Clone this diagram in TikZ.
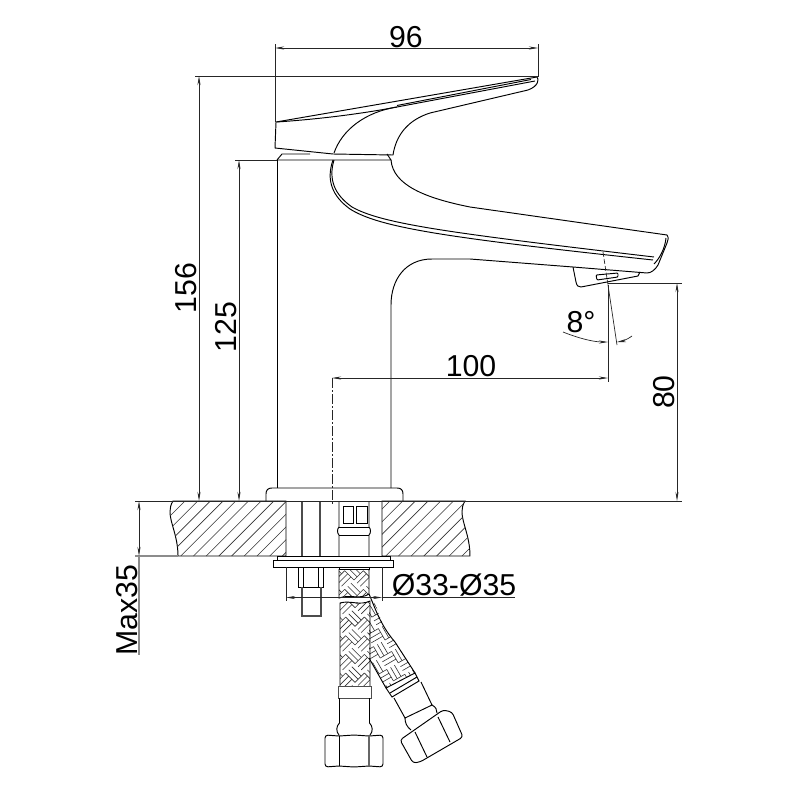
\documentclass[tikz,border=0pt]{standalone}
\usepackage{fontspec}
\setmainfont{Liberation Sans}
\usetikzlibrary{arrows.meta}
\tikzset{
  outline/.style={line width=0.0095cm,black},
  thin line/.style={line width=0.007cm,black!85},
  dimline/.style={line width=0.007cm,black!85,{Stealth[length=0.09cm,width=0.03cm]}-{Stealth[length=0.09cm,width=0.03cm]}},
  hatchline/.style={line width=0.006cm,black!80},
  dimtext/.style={font=\fontsize{8.6}{9}\selectfont,inner sep=0pt},
}
\newcommand{\braidfill}{%
  \foreach \i in {-6,...,6}{
    \foreach \j in {-6,...,6}{
      \pgfmathtruncatemacro\k{mod(abs(\i+\j),2)}
      \foreach \t in {0,4.4,8.8}{
        \ifnum\k=0
          \draw[hatchline] (13.2*\i,13.2*\j+\t) -- ++(13.2,0);
        \else
          \draw[hatchline] (13.2*\i+\t,13.2*\j) -- ++(0,13.2);
        \fi
      }
    }
  }
}
\begin{document}
\begin{tikzpicture}[x=0.01cm,y=-0.01cm]
  \fill[white] (0,0) rectangle (800,800);
  \useasboundingbox (0,0) rectangle (800,800);
  % handle
  \draw[outline] (276,122) -- (537,77) .. controls (539,79) and (539,86) .. (528,90)
     -- (430,113) .. controls (408,120) and (396,135) .. (393,155) -- (333,154) -- (275,148) -- cycle;
  \draw[outline] (277,122) .. controls (320,119) and (360,114) .. (397,107) -- (535,81);
  \draw[outline] (397,105.5) -- (531,79.5);
  \draw[outline] (334,153) .. controls (342,130) and (365,112) .. (397,107);
  % base ring
  \draw[outline] (277,160) -- (282,154) -- (310,154);
  \draw[outline] (277,160) -- (391,160) -- (387,154);
  % body and spout
  \draw[outline] (277,160) -- (277,488);
  \draw[outline] (391,160) .. controls (393,185) and (425,198) .. (470,207) -- (667,235)
     .. controls (669,238) and (668,240) .. (667,243) -- (658,265) .. controls (655,270) and (651,273) .. (647,273)
     -- (573,267) -- (470,259) -- (432,259) .. controls (405,259) and (391,280) .. (391,305) -- (391,488);
  \draw[outline] (333,160) .. controls (326,180) and (332,196) .. (350,209)
     .. controls (380,228) and (450,238) .. (653,260);
  \draw[outline] (334,160) .. controls (328,180) and (335,195) .. (352,207)
     .. controls (382,224) and (450,233) .. (654,257);
  \draw[outline] (666,238) .. controls (665,248) and (660,258) .. (654,264);
  % aerator
  \draw[outline] (573,267) -- (576,282) .. controls (577,286) and (578,287) .. (581,287) -- (638,276) -- (640,272);
  \draw[outline,rounded corners=0.01cm] (596,275) -- (618,273) -- (618,277) -- (597,280) -- cycle;
  \draw[thin line,dash pattern=on 0.05cm off 0.02cm] (603,252) -- (608,285);
  % flange
  \draw[outline] (266,501) -- (266,494) .. controls (266,490) and (268,488) .. (272,488) -- (397,488)
     .. controls (401,488) and (403,490) .. (403,494) -- (403,501);
  \draw[thin line,dash pattern=on 0.1cm off 0.02cm on 0.02cm off 0.02cm] (332,378) -- (332,505);
  % worktop
  \draw[outline] (173,501) .. controls (164,515) and (178,530) .. (178,556) -- (286,556) -- (286,501) -- cycle;
  \draw[outline] (465,501) .. controls (456,515) and (470,530) .. (470,556) -- (382,556) -- (382,501) -- cycle;
  \begin{scope}
    \clip (173,501) .. controls (164,515) and (178,530) .. (178,556) -- (286,556) -- (286,501) -- cycle;
    \foreach \i in {130,142.7,...,300}{ \draw[hatchline] (\i,556) -- ++(55,-55); }
  \end{scope}
  \begin{scope}
    \clip (465,501) .. controls (456,515) and (470,530) .. (470,556) -- (382,556) -- (382,501) -- cycle;
    \foreach \i in {335,347.7,...,480}{ \draw[hatchline] (\i,556) -- ++(55,-55); }
  \end{scope}
  % bolt and fitting in the hole
  \draw[line width=0.014cm,black!70] (302,501) -- (302,556);
  \draw[line width=0.014cm,black!70] (320,501) -- (320,556);
  \draw[outline] (339,501) -- (339,527) .. controls (337,529) and (337,533) .. (339,535) -- (339,556);
  \draw[outline] (369,501) -- (369,527) .. controls (371,529) and (371,533) .. (369,535) -- (369,556);
  \draw[outline] (339,527) -- (369,527);
  \draw[outline] (339,535) -- (369,535);
  \draw[outline] (343,506) rectangle (353,523);
  \draw[outline] (356,506) rectangle (367,523);
  \draw[outline] (277,556) rectangle (390,560);
  \draw[outline] (273,560) rectangle (393,567);
  \draw[outline] (298,567) -- (298,587) -- (323,587) -- (323,567);
  \draw[outline] (303,567) -- (303,587);
  \draw[outline] (318,567) -- (318,587);
  \draw[line width=0.014cm,black!70] (302,587) -- (302,616) -- (321,616) -- (321,587);
  % hoses
  \begin{scope}
    \clip (339,569) -- (369,569) -- (369,594) .. controls (360,600) and (350,594) .. (339,598) -- cycle;
    \begin{scope}[shift={(354,580)},rotate=45] \braidfill \end{scope}
  \end{scope}
  \draw[outline] (339,567) rectangle (369,569);
  \draw[outline] (339,569) -- (339,598) .. controls (350,594) and (360,600) .. (369,594) -- (369,569);
  \begin{scope}
    \clip (375,602) .. controls (380,620) and (385,630) .. (395,642) -- (415,673) -- (386,688) -- (369,658) -- (369,607) -- cycle;
    \begin{scope}[shift={(385,640)},rotate=30] \braidfill \end{scope}
  \end{scope}
  \draw[outline] (369,594) .. controls (374,605) and (380,625) .. (395,642) -- (415,673);
  \draw[outline] (369,658) -- (386,688);
  \begin{scope}
    \clip (340,603) .. controls (350,600) and (360,606) .. (370,601) -- (370,686) -- (340,686) -- cycle;
    \begin{scope}[shift={(355,645)},rotate=45] \braidfill \end{scope}
  \end{scope}
  \draw[outline] (340,686) -- (340,603) .. controls (350,600) and (360,606) .. (370,601) -- (370,686);
  % lower connector, straight hose
  \draw[outline,black!70] (338,686) rectangle (371,698);
  \draw[outline] (339.5,698) -- (339.5,723);
  \draw[outline] (369.5,698) -- (369.5,723);
  \draw[outline] (339.5,723) .. controls (336,726) and (336,732) .. (339,735);
  \draw[outline] (369.5,723) .. controls (373,726) and (373,732) .. (370,735);
  \draw[outline,rounded corners=0.03cm] (325,735) -- (339,736) -- (354,735) -- (369,736) -- (383,735) -- (383,767) -- (369,766) -- (354,767) -- (339,766) -- (325,767) -- cycle;
  \draw[outline] (339,736) -- (339,766);
  \draw[line width=0.014cm,black!60] (369,736) -- (369,766);
  % lower connector, bent hose
  \draw[outline] (386,688) -- (415,673) -- (419,681) -- (392,697) -- cycle;
  \draw[outline] (390,693) -- (417,677);
  \draw[outline] (394,698) -- (405,718) -- (432,705) -- (421,682);
  \draw[outline] (405,718) .. controls (405,723) and (407,727) .. (411,730);
  \draw[outline] (432,705) .. controls (436,707) and (437,710) .. (437,713);
  \draw[outline,rounded corners=0.03cm] (400,740) -- (413,763) -- (420,762) -- (463,737) -- (452,712) -- (443,710) -- cycle;
  \draw[outline] (415,732) -- (427,757);
  \draw[outline] (438,717) -- (450,742);
  % dimensions
  \coordinate (d96a) at (275,48);
  \coordinate (d96b) at (538,48);
  \draw[thin line] (275,44) -- (275,122);
  \draw[thin line] (538,44) -- (538,77);
  \draw[dimline] (d96a) -- (d96b);
  \node[dimtext] (t96) at (406,37) {96};
  \coordinate (d156a) at (199,76);
  \coordinate (d156b) at (199,501);
  \draw[thin line] (195,76) -- (538,76);
  \draw[dimline] (d156a) -- (d156b);
  \node[dimtext,rotate=90] (t156) at (186,288) {156};
  \coordinate (d125a) at (239,160);
  \coordinate (d125b) at (239,501);
  \draw[thin line] (235,160) -- (277,160);
  \draw[dimline] (d125a) -- (d125b);
  \node[dimtext,rotate=90] (t125) at (226,327) {125};
  \coordinate (d100a) at (332,378);
  \coordinate (d100b) at (608,378);
  \draw[thin line] (608,285) -- (608,382);
  \draw[dimline] (d100a) -- (d100b);
  \node[dimtext] (t100) at (471,366) {100};
  \coordinate (d80a) at (677,283);
  \coordinate (d80b) at (677,501);
  \draw[thin line] (608,283) -- (682,283);
  \draw[thin line] (135,501) -- (682,501);
  \draw[dimline] (d80a) -- (d80b);
  \node[dimtext,rotate=90] (t80) at (664,392) {80};
  % angle
  \draw[thin line] (608,285) -- (617,345);
  \draw[thin line,-{Stealth[length=0.09cm,width=0.03cm]}] (563,332) .. controls (578,338) and (593,342) .. (608,342);
  \draw[thin line,-{Stealth[length=0.09cm,width=0.03cm]}] (632,336) .. controls (628,339) and (623,341) .. (617,342);
  \node[dimtext] (t8) at (581,322) {8°};
  % diameter
  \coordinate (dia) at (286,597.5);
  \coordinate (dib) at (382,597.5);
  \draw[thin line] (286,567) -- (286,601);
  \draw[thin line] (382,567) -- (382,601);
  \draw[dimline] (dia) -- (dib);
  \draw[thin line] (382,597.5) -- (515,597.5);
  \node[dimtext] (tdia) at (454,585) {Ø33-Ø35};
  % max depth
  \coordinate (dma) at (139,501);
  \coordinate (dmb) at (139,556);
  \draw[thin line,black!45,line width=0.012cm] (135,556) -- (178,556);
  \draw[dimline] (dma) -- (dmb);
  \draw[thin line,black!45,line width=0.012cm] (139,556) -- (139,655);
  \node[dimtext,rotate=90] (tmax) at (127,610) {Max35};
\end{tikzpicture}
\end{document}
